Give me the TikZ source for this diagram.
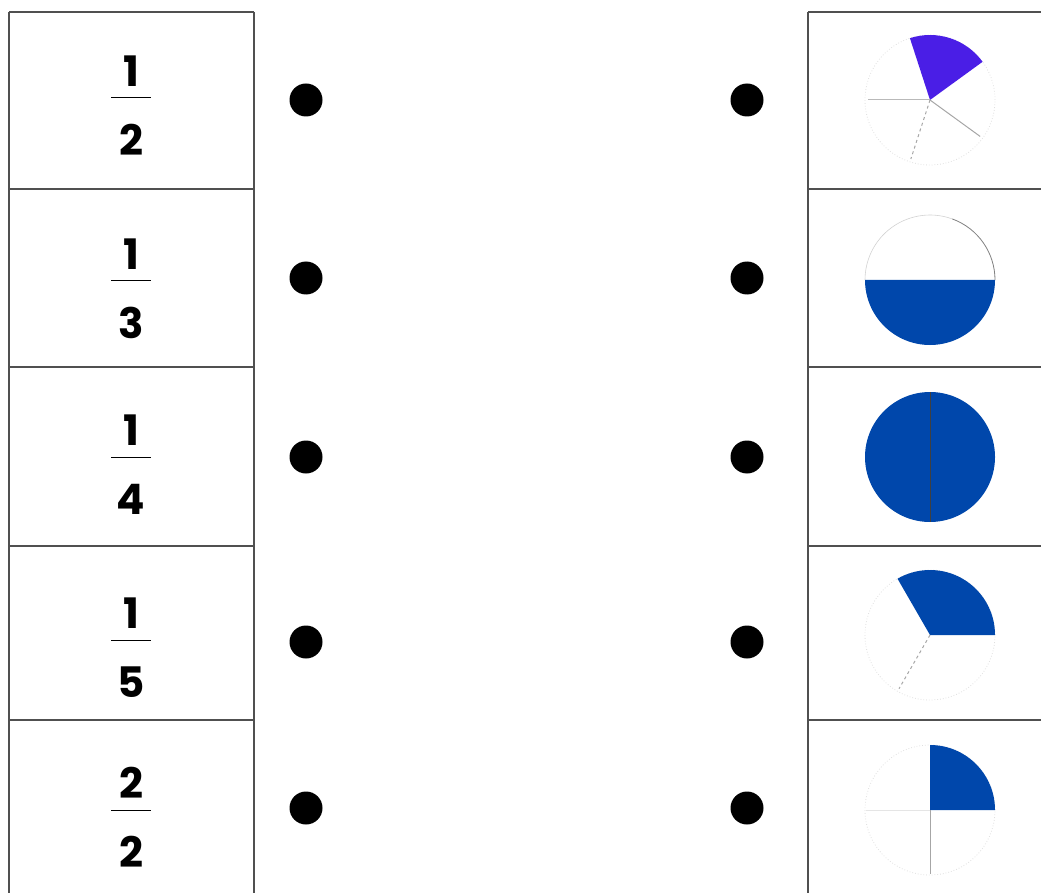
\documentclass[tikz,border=0pt]{standalone}
\usepackage{fontspec}
\setmainfont{Poppins}
\usetikzlibrary{positioning}
\definecolor{pieblue}{RGB}{0,71,171}
\definecolor{pieviolet}{RGB}{74,30,230}
\definecolor{cellgray}{RGB}{80,80,80}

\begin{document}
\begin{tikzpicture}[x=1pt, y=-1pt,
  cell/.style={draw=cellgray, line width=1.6pt},
  dotmark/.style={circle, fill=black, inner sep=0pt, minimum size=33pt},
  digit/.style={font=\bfseries\fontsize{42}{42}\selectfont, inner sep=0pt},
  spoke/.style={gray!70, line width=1pt},
  rim/.style={gray!25, dotted, line width=0.8pt}]
  \useasboundingbox (0,0) rectangle (1041,893);
  \clip (0,0) rectangle (1041,893);
  % table cells, left and right
  \foreach \y in {12,189,367,546,720} {
    \draw[cell] (9,\y) -- (254,\y);
    \draw[cell] (808,\y) -- (1050,\y);
  }
  \draw[cell] (9,12) -- (9,900);
  \draw[cell] (254,12) -- (254,900);
  \draw[cell] (808,12) -- (808,900);
  % fractions
  \foreach \n/\d/\y [count=\i] in {1/2/98, 1/3/281, 1/4/457, 1/5/640, 2/2/810} {
    \node[digit] (num\i) at (131,\y-27) {\n};
    \node[digit] (den\i) at (131,\y+42) {\d};
    \draw[line width=1pt] (111,\y) -- (151,\y);
  }
  % matching dots
  \foreach \y [count=\i] in {100,278,457,642,808} {
    \node[dotmark] (ldot\i) at (306,\y) {};
    \node[dotmark] (rdot\i) at (747,\y) {};
  }
  % pies
  \coordinate (pie1) at (930,100);
  \coordinate (pie2) at (930,280);
  \coordinate (pie3) at (930,457);
  \coordinate (pie4) at (930,635);
  \coordinate (pie5) at (930,810);
  \begin{scope}[shift={(pie1)}, y=1pt]
    \draw[rim] (0,0) circle (65);
    \fill[pieviolet] (0,0) -- (36:65) arc[start angle=36, end angle=108, radius=65] -- cycle;
    \draw[spoke, gray!55] (0,0) -- (180:62);
    \draw[spoke, dashed] (0,0) -- (252:62);
    \draw[spoke] (0,0) -- (324:62);
  \end{scope}
  \begin{scope}[shift={(pie2)}, y=1pt]
    \draw[gray, line width=0.8pt] (0:65) arc[start angle=0, end angle=70, radius=65];
    \draw[gray!35, line width=0.6pt] (70:65) arc[start angle=70, end angle=180, radius=65];
    \fill[pieblue] (180:65) arc[start angle=180, end angle=360, radius=65] -- cycle;
  \end{scope}
  \begin{scope}[shift={(pie3)}, y=1pt]
    \fill[pieblue] (0,0) circle (65);
    \draw[black!75, line width=0.8pt] (90:65) -- (270:65);
  \end{scope}
  \begin{scope}[shift={(pie4)}, y=1pt]
    \draw[rim] (0,0) circle (65);
    \fill[pieblue] (0,0) -- (0:65) arc[start angle=0, end angle=120, radius=65] -- cycle;
    \draw[spoke, dashed] (0,0) -- (240:62);
  \end{scope}
  \begin{scope}[shift={(pie5)}, y=1pt]
    \draw[rim] (0,0) circle (65);
    \fill[pieblue] (0,0) -- (0:65) arc[start angle=0, end angle=90, radius=65] -- cycle;
    \draw[gray!20, line width=0.8pt] (0,0) -- (180:64);
    \draw[spoke] (0,0) -- (270:64);
  \end{scope}
\end{tikzpicture}
\end{document}
